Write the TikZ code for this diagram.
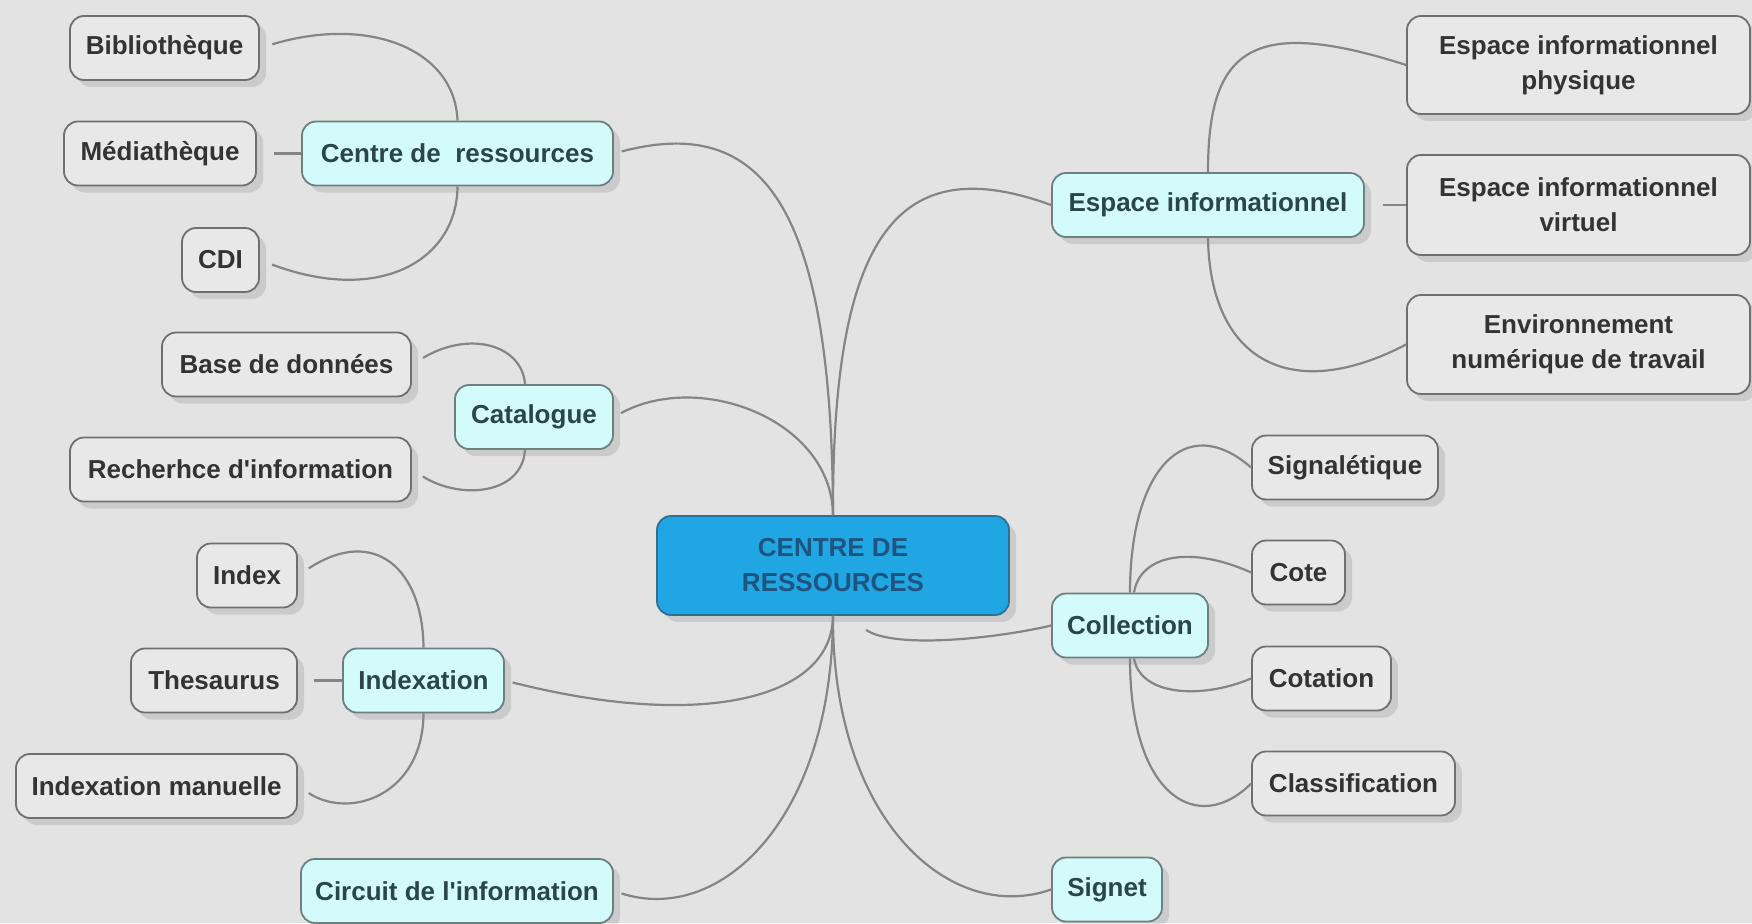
\documentclass[tikz,border=0pt]{standalone}
\usepackage{fontspec}
\setmainfont{Liberation Sans}
\usetikzlibrary{shadows}
\definecolor{bg}{HTML}{E3E3E3}
\definecolor{childfill}{HTML}{E8E8E8}
\definecolor{childdraw}{HTML}{6F6F6F}
\definecolor{childtext}{HTML}{333333}
\definecolor{topicfill}{HTML}{D4FBFC}
\definecolor{topicdraw}{HTML}{6C8080}
\definecolor{topictext}{HTML}{2A4646}
\definecolor{mainfill}{HTML}{20A6E2}
\definecolor{maindraw}{HTML}{2E6F92}
\definecolor{maintext}{HTML}{1E5580}
\definecolor{linegray}{HTML}{858585}
\begin{document}
\begin{tikzpicture}[x=1pt,y=-1pt,
  box/.style={rounded corners=14pt, line width=1.8pt, inner sep=0pt,
    minimum height=64pt, align=center,
    font=\bfseries\fontsize{26}{35}\selectfont,
    drop shadow={shadow xshift=7pt, shadow yshift=-7pt, fill=black, opacity=0.10}},
  child/.style={box, fill=childfill, draw=childdraw, text=childtext},
  topic/.style={box, fill=topicfill, draw=topicdraw, text=topictext},
  central/.style={box, fill=mainfill, draw=maindraw, text=maintext},
  conn/.style={draw=linegray, line width=2.2pt},
  lgap/.style={shorten >=13pt},
  sgap/.style={shorten >=8pt}]
\fill[bg] (0,0) rectangle (1752,923);
\useasboundingbox (0,0) rectangle (1752,923);

% central
\node[central, minimum width=352pt, minimum height=99pt] (c) at (833,565.5) {CENTRE DE\\RESSOURCES};

% left topics
\node[topic, minimum width=311pt] (cdr) at (457.5,153.5) {Centre de\ \ ressources};
\node[topic, minimum width=158pt] (cat) at (534,417) {Catalogue};
\node[topic, minimum width=161pt] (indx) at (423.5,680.5) {Indexation};
\node[topic, minimum width=312pt] (circ) at (457,891) {Circuit de l\textquotesingle information};

% right topics
\node[topic, minimum width=312pt] (ei) at (1208,205) {Espace informationnel};
\node[topic, minimum width=156pt] (coll) at (1130,625.5) {Collection};
\node[topic, minimum width=110pt] (signet) at (1107,889.5) {Signet};

% left children
\node[child, minimum width=189pt] (bib) at (164.5,48) {Bibliothèque};
\node[child, minimum width=192pt] (med) at (160,153.5) {Médiathèque};
\node[child, minimum width=77pt] (cdi) at (220.5,260) {CDI};
\node[child, minimum width=249pt] (bdd) at (286.5,364.5) {Base de données};
\node[child, minimum width=341pt] (rech) at (240.5,469.5) {Recherhce d\textquotesingle information};
\node[child, minimum width=100pt] (index) at (247,575.5) {Index};
\node[child, minimum width=166pt] (thes) at (214,680.5) {Thesaurus};
\node[child, minimum width=281pt] (indm) at (156.5,786) {Indexation manuelle};

% right children
\node[child, minimum width=343pt, minimum height=98pt] (eip) at (1578.5,65) {Espace informationnel\\physique};
\node[child, minimum width=343pt, minimum height=100pt] (eiv) at (1578.5,205) {Espace informationnel\\virtuel};
\node[child, minimum width=343pt, minimum height=99pt] (ent) at (1578.5,344.5) {Environnement\\numérique de travail};
\node[child, minimum width=186pt] (sig) at (1345,467.5) {Signalétique};
\node[child, minimum width=93pt] (cote) at (1298.5,572.5) {Cote};
\node[child, minimum width=139pt] (cotation) at (1321.5,678.5) {Cotation};
\node[child, minimum width=203pt] (classif) at (1353.5,783.5) {Classification};

% central connectors
\draw[conn, sgap] (c.north) .. controls (832,200) and (760,115) .. (cdr.east);
\draw[conn, sgap] (c.north) .. controls (832,420) and (700,370) .. (cat.east);
\draw[conn] (c.north) .. controls (832,230) and (900,150) .. (ei.west);
\draw[conn, sgap] (c.south) .. controls (832,700) and (700,730) .. (indx.east);
\draw[conn, sgap] (c.south) .. controls (832,820) and (720,925) .. (circ.east);
\draw[conn] (c.south) .. controls (832,820) and (950,925) .. (signet.west);
\draw[conn] ([xshift=33pt,yshift=-14pt]c.south) .. controls +(30,20) and +(-50,12) .. (coll.west);

% left sub connectors
\draw[conn, lgap] (cdr.north) .. controls (455,50) and (370,15) .. (bib.east);
\draw[conn, shorten >=17pt] (cdr.west) -- (med.east);
\draw[conn, lgap] (cdr.south) .. controls (457,260) and (380,305) .. (cdi.east);
\draw[conn, lgap] ([xshift=-9pt]cat.north) .. controls (522,345) and (470,330) .. (bdd.east);
\draw[conn, lgap] ([xshift=-9pt]cat.south) .. controls (522,495) and (460,500) .. (rech.east);
\draw[conn, lgap] (indx.north) .. controls (423,570) and (375,525) .. (index.east);
\draw[conn, shorten >=16pt] (indx.west) -- (thes.east);
\draw[conn, lgap] (indx.south) .. controls (423,795) and (350,820) .. (indm.east);

% right sub connectors
\draw[conn] (ei.north) .. controls (1208,50) and (1250,15) .. (eip.west);
\draw[conn, shorten <=18pt] (ei.east) -- (eiv.west);
\draw[conn] (ei.south) .. controls (1210,360) and (1290,405) .. (ent.west);
\draw[conn] (coll.north) .. controls (1130,470) and (1185,410) .. (sig.west);
\draw[conn] ([xshift=4pt]coll.north) .. controls (1140,555) and (1190,545) .. (cote.west);
\draw[conn] ([xshift=4pt]coll.south) .. controls (1140,695) and (1200,700) .. (cotation.west);
\draw[conn] (coll.south) .. controls (1130,800) and (1200,835) .. (classif.west);
\end{tikzpicture}
\end{document}
